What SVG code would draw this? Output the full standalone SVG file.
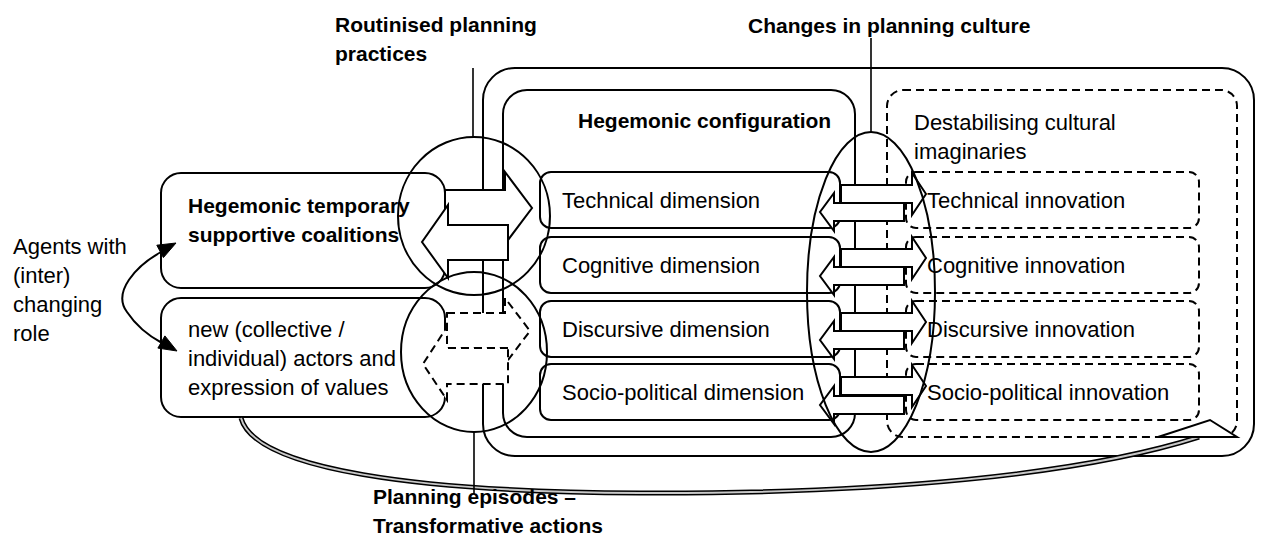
<svg xmlns="http://www.w3.org/2000/svg" xmlns:xlink="http://www.w3.org/1999/xlink" width="1261" height="539" viewBox="0 0 1261 539">
<style>
.box{fill:none;stroke:#000;stroke-width:2}
.dash{fill:none;stroke:#000;stroke-width:2;stroke-dasharray:8 5}
.arr{fill:#fff;stroke:#000;stroke-width:2;stroke-linejoin:miter}
.arrd{fill:#fff;stroke:#000;stroke-width:2;stroke-dasharray:8 5}
.ring{fill:none;stroke:#000;stroke-width:2}
.ptr{fill:none;stroke:#000;stroke-width:1.6}
.head{fill:#000;stroke:#000;stroke-width:1}
.t{font-family:"Liberation Sans",Arial,sans-serif;font-size:22px;fill:#000}
.b{font-family:"Liberation Sans",Arial,sans-serif;font-size:21px;font-weight:bold;fill:#000}
</style>
<defs>
<path id="rArr" d="M841,-9 H912 V-21 L926,0 L912,21 V9 H841 Z"/>
<path id="lArr" d="M904,-9 H834 V-19 L820,0 L834,19 V9 H904 Z"/>
</defs>
<rect width="1261" height="539" fill="#fff"/>

<g id="outer-frame">
<rect class="box" x="483" y="68" width="771" height="388" rx="32"/>
</g>

<g id="hegemonic-configuration">
<rect class="box" x="503" y="90" width="352" height="347" rx="24"/>
<text class="b" x="578" y="128">Hegemonic configuration</text>
</g>

<g id="destabilising-imaginaries">
<rect class="dash" x="887" y="90" width="350" height="347" rx="16"/>
<text class="t" x="914" y="130">Destabilising cultural</text>
<text class="t" x="914" y="159">imaginaries</text>
</g>

<g id="technical-innovation">
<rect class="dash" x="906" y="172" width="293" height="56" rx="10"/>
<text class="t" x="927" y="208">Technical innovation</text>
</g>
<g id="cognitive-innovation">
<rect class="dash" x="906" y="237" width="293" height="56" rx="10"/>
<text class="t" x="927" y="273">Cognitive innovation</text>
</g>
<g id="discursive-innovation">
<rect class="dash" x="906" y="301" width="293" height="56" rx="10"/>
<text class="t" x="927" y="337">Discursive innovation</text>
</g>
<g id="socio-political-innovation">
<rect class="dash" x="906" y="364" width="293" height="56" rx="10"/>
<text class="t" x="927" y="400">Socio-political innovation</text>
</g>

<g id="technical-dimension">
<rect class="box" x="540" y="172" width="300" height="56" rx="11"/>
<text class="t" x="562" y="208">Technical dimension</text>
</g>
<g id="cognitive-dimension">
<rect class="box" x="540" y="237" width="300" height="56" rx="11"/>
<text class="t" x="562" y="273">Cognitive dimension</text>
</g>
<g id="discursive-dimension">
<rect class="box" x="540" y="301" width="300" height="56" rx="11"/>
<text class="t" x="562" y="337">Discursive dimension</text>
</g>
<g id="socio-political-dimension">
<rect class="box" x="540" y="364" width="300" height="56" rx="11"/>
<text class="t" x="562" y="400">Socio-political dimension</text>
</g>

<g id="hegemonic-coalitions">
<rect class="box" x="161" y="173" width="284" height="115" rx="20"/>
<text class="b" x="188" y="213">Hegemonic temporary</text>
<text class="b" x="188" y="242">supportive coalitions</text>
</g>

<g id="new-actors">
<rect class="box" x="161" y="298" width="284" height="119" rx="20"/>
<text class="t" x="188" y="337">new (collective /</text>
<text class="t" x="188" y="366">individual) actors and</text>
<text class="t" x="188" y="395">expression of values</text>
</g>

<g id="agents-label">
<text class="t" x="13" y="254">Agents with</text>
<text class="t" x="13" y="283">(inter)</text>
<text class="t" x="13" y="312">changing</text>
<text class="t" x="13" y="341">role</text>
</g>

<g id="connectors">
<path d="M161,252 C136,266 112,292 127,312 C137,327 149,336 162,343" fill="none" stroke="#000" stroke-width="2"/>
<polygon class="head" points="176,243 163.4,257.6 156.8,245.2"/>
<polygon class="head" points="177,351 157.9,348.1 164.9,335.9"/>

<path d="M241,418 C255,470 420,492 640,493 C880,494 1080,475 1199,437" fill="none" stroke="#000" stroke-width="5"/>
<path d="M241,418 C255,470 420,492 640,493 C880,494 1080,475 1199,437" fill="none" stroke="#c8c8c8" stroke-width="2"/>
<polygon class="arr" points="1158,437 1210,420 1237,437"/>

<path class="arr" d="M445,190 H505 V172 L532,208 L505,244 V225 H445 Z"/>
<path class="arr" d="M508,225 H448 V205 L422,242 L448,278 V260 H508 Z"/>
<path class="arrd" d="M447,313 H505 V298 L530,331 L505,364 V348 H447 Z"/>
<path class="arrd" d="M508,348 H447 V327 L423,364 L447,400 V384 H508 Z"/>

<use xlink:href="#rArr" class="arr" transform="translate(0,194)"/>
<use xlink:href="#lArr" class="arr" transform="translate(0,212)"/>
<use xlink:href="#rArr" class="arr" transform="translate(0,258)"/>
<use xlink:href="#lArr" class="arr" transform="translate(0,276)"/>
<use xlink:href="#rArr" class="arr" transform="translate(0,322)"/>
<use xlink:href="#lArr" class="arr" transform="translate(0,340)"/>
<use xlink:href="#rArr" class="arr" transform="translate(0,386)"/>
<use xlink:href="#lArr" class="arr" transform="translate(0,405)"/>

<ellipse class="ring" cx="474" cy="216" rx="76" ry="79"/>
<ellipse class="ring" cx="474" cy="352" rx="73" ry="80"/>
<ellipse class="ring" cx="871" cy="292" rx="64" ry="160"/>

<line class="ptr" x1="473" y1="68" x2="473" y2="137"/>
<line class="ptr" x1="474" y1="432" x2="474" y2="494"/>
<line class="ptr" x1="871" y1="38" x2="871" y2="132"/>
</g>

<g id="routinised-label">
<text class="b" x="335" y="32">Routinised planning</text>
<text class="b" x="335" y="61">practices</text>
</g>
<g id="changes-label">
<text class="b" x="748" y="33">Changes in planning culture</text>
</g>
<g id="episodes-label">
<text class="b" x="373" y="504">Planning episodes –</text>
<text class="b" x="373" y="533">Transformative actions</text>
</g>
</svg>
